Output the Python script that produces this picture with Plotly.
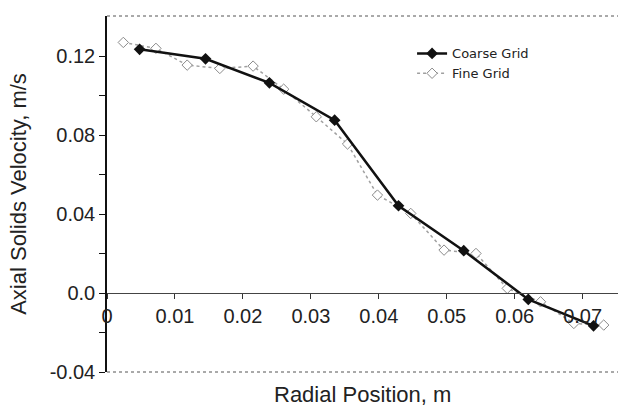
import plotly.graph_objects as go

# Radial profile of axial solids velocity: coarse vs fine mesh
coarse_r = [0.0048, 0.0145, 0.0239, 0.0335, 0.0429, 0.0525, 0.0620, 0.0716]
coarse_v = [0.1236, 0.1188, 0.1066, 0.0877, 0.0443, 0.0215, -0.0032, -0.0166]

fine_r = [0.0024, 0.0072, 0.0118, 0.0166, 0.0215, 0.0260, 0.0308, 0.0354,
          0.0398, 0.0447, 0.0496, 0.0543, 0.0589, 0.0638, 0.0687, 0.0731]
fine_v = [0.1271, 0.1241, 0.1156, 0.1139, 0.1151, 0.1034, 0.0894, 0.0756,
          0.0497, 0.0404, 0.0218, 0.0201, 0.0024, -0.0044, -0.0154, -0.0162]

x_ticks = [0, 0.01, 0.02, 0.03, 0.04, 0.05, 0.06, 0.07]
x_tick_text = ["0", "0.01", "0.02", "0.03", "0.04", "0.05", "0.06", "0.07"]
y_ticks = [-0.04, 0.0, 0.04, 0.08, 0.12]
y_tick_text = ["-0.04", "0.0", "0.04", "0.08", "0.12"]
y_minor = [-0.02, 0.02, 0.06, 0.10]

X_RANGE = [0, 0.0752]
Y_RANGE = [-0.04, 0.1405]

fig = go.Figure()

fig.add_trace(go.Scatter(
    x=fine_r, y=fine_v, name="Fine Grid", mode="lines+markers",
    line=dict(color="#a0a0a0", width=1.5, dash="dot"),
    marker=dict(symbol="diamond", size=8, color="white",
                line=dict(color="#8a8a8a", width=1)),
))
fig.add_trace(go.Scatter(
    x=coarse_r, y=coarse_v, name="Coarse Grid", mode="lines+markers",
    line=dict(color="#111111", width=2.5),
    marker=dict(symbol="diamond", size=9, color="#111111"),
))

# position of the y=0 line within the plot area (paper fraction)
zero_frac = (0 - Y_RANGE[0]) / (Y_RANGE[1] - Y_RANGE[0])

tick_font = dict(family="Liberation Sans, Arial, sans-serif", size=20, color="#222222")
title_font = dict(family="Liberation Sans, Arial, sans-serif", size=22, color="#222222")

fig.update_layout(
    width=620, height=409,
    margin=dict(l=107, r=2, t=16, b=37),
    paper_bgcolor="white", plot_bgcolor="white",
    showlegend=True,
    legend=dict(
        x=0.597, y=0.937, xanchor="left", yanchor="top",
        traceorder="reversed",
        font=dict(family="DejaVu Sans, Verdana, sans-serif", size=13, color="#222222"),
        bgcolor="rgba(0,0,0,0)", borderwidth=0,
    ),
    xaxis=dict(
        range=X_RANGE, anchor="free", position=zero_frac,
        showgrid=False, zeroline=False,
        showline=True, linecolor="#444444", linewidth=1,
        ticks="outside", ticklen=5, tickwidth=1, tickcolor="#333333",
        tickvals=x_ticks, ticktext=x_tick_text,
        tickfont=tick_font,
    ),
    yaxis=dict(
        range=Y_RANGE,
        showgrid=False, zeroline=False,
        showline=True, linecolor="#111111", linewidth=1.5,
        ticks="outside", ticklen=6, tickwidth=1, tickcolor="#111111",
        tickvals=y_ticks, ticktext=y_tick_text,
        minor=dict(tickvals=y_minor, ticks="outside", ticklen=6,
                   tickwidth=1, tickcolor="#111111"),
        tickfont=tick_font,
        title=dict(text="Axial Solids Velocity, m/s", font=title_font, standoff=17),
    ),
    annotations=[
        dict(text="Radial Position, m", xref="paper", yref="paper",
             x=0.5, y=-0.063, xanchor="center", yanchor="middle",
             showarrow=False, font=title_font),
    ],
    shapes=[
        # thin dotted frame lines along the top and bottom of the plot area
        dict(type="line", xref="paper", yref="paper", x0=0, x1=1, y0=1, y1=1,
             line=dict(color="#555555", width=1, dash="dot")),
        dict(type="line", xref="paper", yref="paper", x0=0, x1=1, y0=0, y1=0,
             line=dict(color="#555555", width=1, dash="dot")),
    ],
)

fig.write_html("out.html")
